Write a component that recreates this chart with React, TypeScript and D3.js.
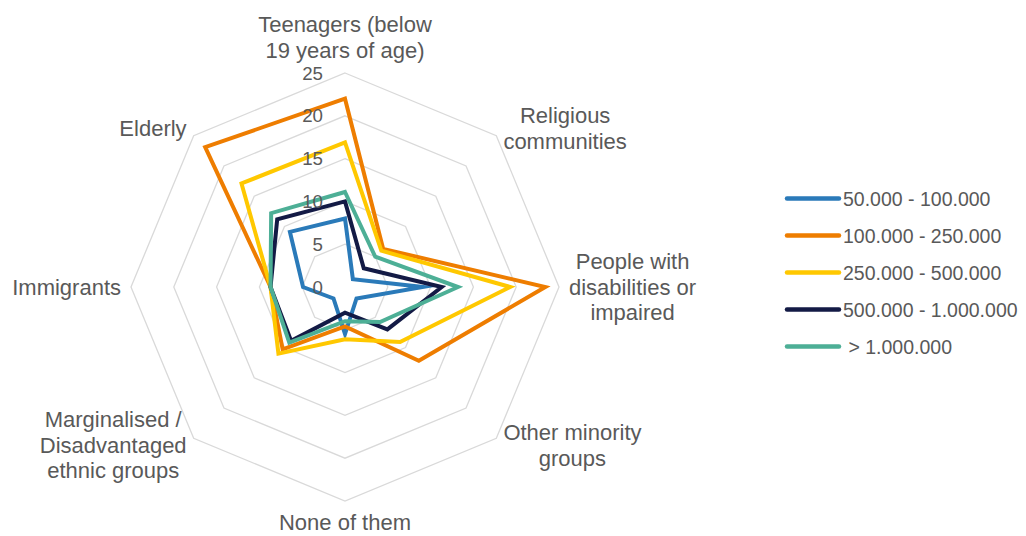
import React from 'react';
import * as d3 from 'd3';

const categories: string[][] = [
  ['Teenagers (below', '19 years of age)'],
  ['Religious', 'communities'],
  ['People with', 'disabilities or', 'impaired'],
  ['Other minority', 'groups'],
  ['None of them'],
  ['Marginalised /', 'Disadvantaged', 'ethnic groups'],
  ['Immigrants'],
  ['Elderly'],
];

const seriesNames = ['50.000 - 100.000', '100.000 - 250.000', '250.000 - 500.000', '500.000 - 1.000.000', ' > 1.000.000'];
const seriesColors = ['#2a7ab9', '#ee7d00', '#ffc800', '#131a45', '#4daf96'];

const s50k = [8.0, 1.3, 9.1, 1.9, 5.5, 1.9, 4.9, 9.1];
const s100k = [22.0, 6.3, 23.4, 12.2, 4.6, 10.3, 8.7, 23.1];
const s250k = [16.9, 6.0, 19.3, 9.1, 6.1, 11.0, 8.7, 17.1];
const s500k = [10.0, 3.1, 11.3, 7.0, 3.0, 8.9, 8.7, 11.2];
const s1m = [11.1, 5.0, 13.2, 5.8, 4.0, 9.2, 8.7, 12.2];
const seriesValues = [s50k, s100k, s250k, s500k, s1m];

const tickValues = [0, 5, 10, 15, 20, 25];

const FONT = "Arial, 'Liberation Sans', sans-serif";
const TEXT_COLOR = '#595959';

let ctx: CanvasRenderingContext2D | null = null;
function measure(text: string, size: number): number {
  if (!ctx) ctx = document.createElement('canvas').getContext('2d');
  if (!ctx) return text.length * size * 0.5;
  ctx.font = `${size}px Arial, 'Liberation Sans', sans-serif`;
  return ctx.measureText(text).width;
}

export default function App() {
  const width = 1026;
  const height = 536;
  const cx = 345;
  const cy = 287;
  const R = 214;
  const n = categories.length;
  const r = d3.scaleLinear().domain([0, 25]).range([0, R]);
  const angle = (i: number) => (i * 2 * Math.PI) / n;

  const radial = d3
    .lineRadial<number>()
    .angle((_, i) => angle(i))
    .radius((d) => r(d))
    .curve(d3.curveLinearClosed);

  const labelSize = 22;
  const lineH = 25.5;
  const gap = 10;

  const labels = categories.map((lines, i) => {
    const a = angle(i);
    const s = Math.sin(a);
    const c = Math.cos(a);
    const px = cx + (R + gap) * s;
    const py = cy - (R + gap) * c;
    const w = Math.max(...lines.map((t) => measure(t, labelSize)));
    let bx = px;
    if (s > 0.1) bx = px + w / 2;
    else if (s < -0.1) bx = px - w / 2;
    let yc = py;
    const h = lines.length * lineH;
    if (c > 0.9) yc = py - h / 2;
    else if (c < -0.9) yc = py + h / 2 - 1;
    return { lines, bx, yc };
  });

  const legendX1 = 787;
  const legendX2 = 839;
  const legendY0 = 198.5;
  const legendStep = 37;

  return (
    <svg
      width={width}
      height={height}
      style={{ position: 'absolute', left: 0, top: 0, background: '#fff' }}
      fontFamily={FONT}
    >
      <g transform={`translate(${cx},${cy})`}>
        {tickValues.slice(1).map((t) => (
          <path
            key={t}
            d={radial(categories.map(() => t)) || ''}
            fill="none"
            stroke="#d9d9d9"
            strokeWidth={1.3}
          />
        ))}
        {seriesValues.map((vals, k) => (
          <path
            key={k}
            d={radial(vals) || ''}
            fill="none"
            stroke={seriesColors[k]}
            strokeWidth={4}
            strokeLinejoin="miter"
            strokeMiterlimit={10}
          />
        ))}
        {tickValues.map((t) => (
          <text
            key={t}
            x={-22}
            y={-r(t)}
            textAnchor="end"
            dominantBaseline="central"
            fontSize={18.7}
            fill={TEXT_COLOR}
          >
            {t}
          </text>
        ))}
      </g>
      {labels.map((lb, i) => (
        <g key={i}>
          {lb.lines.map((t, j) => (
            <text
              key={j}
              x={lb.bx}
              y={lb.yc + (j - (lb.lines.length - 1) / 2) * lineH}
              textAnchor="middle"
              dominantBaseline="central"
              fontSize={labelSize}
              fill={TEXT_COLOR}
            >
              {t}
            </text>
          ))}
        </g>
      ))}
      {seriesNames.map((name, k) => {
        const y = legendY0 + k * legendStep;
        return (
          <g key={k}>
            <line
              x1={legendX1}
              x2={legendX2}
              y1={y}
              y2={y}
              stroke={seriesColors[k]}
              strokeWidth={4.5}
              strokeLinecap="round"
            />
            <text
              x={legendX2 + 4}
              y={y}
              dominantBaseline="central"
              fontSize={19.5}
              fill={TEXT_COLOR}
              style={{ whiteSpace: 'pre' }}
            >
              {name}
            </text>
          </g>
        );
      })}
    </svg>
  );
}
